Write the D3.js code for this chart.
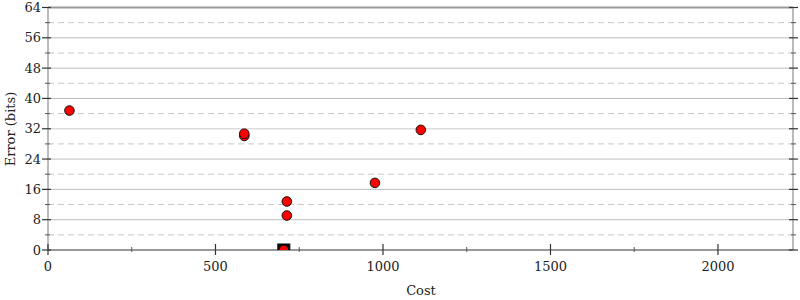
<!DOCTYPE html>
<html><head><meta charset="utf-8">
<script src="https://cdn.jsdelivr.net/npm/d3@7"></script>
<style>body{margin:0;background:#fff}text{font-family:"DejaVu Serif",serif;fill:#222}</style>
</head><body><svg id="c" width="800" height="300"></svg>
<script>
const costs = [64, 586, 586, 713, 713, 976, 1113, 704];
const errors = [36.8, 30.1, 30.7, 9.1, 12.8, 17.7, 31.7, 0];
const bestCost = [704];
const bestError = [0];
const xMajorTicks = [0, 500, 1000, 1500, 2000];
const xMinorTicks = [250, 750, 1250, 1750];
const yMajorTicks = [0, 8, 16, 24, 32, 40, 48, 56, 64];
const yMinorTicks = [4, 12, 20, 28, 36, 44, 52, 60];

const svg = d3.select("#c");
const L = 48, R = 793, T = 7.5, B = 250;
const x = d3.scaleLinear().domain([0, 2224]).range([L, R]);
const y = d3.scaleLinear().domain([0, 64]).range([B, T]);

// grid
svg.append("g").selectAll("line").data(yMinorTicks).join("line")
  .attr("x1", L).attr("x2", R).attr("y1", d => y(d)).attr("y2", d => y(d))
  .attr("stroke", "#c8c8c8").attr("stroke-width", 1).attr("stroke-dasharray", "6,4");
svg.append("g").selectAll("line").data(yMajorTicks.filter(d => d > 0 && d < 64)).join("line")
  .attr("x1", L).attr("x2", R).attr("y1", d => y(d)).attr("y2", d => y(d))
  .attr("stroke", d => d === 32 ? "#dcdcdc" : "#bdbdbd").attr("stroke-width", d => d === 32 ? 1.5 : 1);

// frame
svg.append("line").attr("x1", L).attr("x2", R).attr("y1", y(64)).attr("y2", y(64)).attr("stroke", "#999").attr("stroke-width", 2);
svg.append("line").attr("x1", L).attr("x2", L).attr("y1", T).attr("y2", B).attr("stroke", "#bbb").attr("stroke-width", 2);
svg.append("line").attr("x1", R).attr("x2", R).attr("y1", T).attr("y2", B).attr("stroke", "#bbb").attr("stroke-width", 2);
svg.append("line").attr("x1", L).attr("x2", R).attr("y1", y(0)).attr("y2", y(0)).attr("stroke", "#999").attr("stroke-width", 2);

// y ticks
const yt = svg.append("g");
yt.selectAll(".ymaj").data(yMajorTicks).join("line").attr("class","ymaj")
  .attr("x1", L - 6).attr("x2", L + 3).attr("y1", d => y(d)).attr("y2", d => y(d)).attr("stroke", "#333").attr("stroke-width", 1.2);
yt.selectAll(".ymin").data(yMinorTicks).join("line").attr("class","ymin")
  .attr("x1", L - 3).attr("x2", L + 2).attr("y1", d => y(d)).attr("y2", d => y(d)).attr("stroke", "#555").attr("stroke-width", 1);
yt.selectAll(".ymajr").data(yMajorTicks).join("line").attr("class","ymajr")
  .attr("x1", R - 4).attr("x2", R + 5).attr("y1", d => y(d)).attr("y2", d => y(d)).attr("stroke", "#333").attr("stroke-width", 1.2);
yt.selectAll(".yminr").data(yMinorTicks).join("line").attr("class","yminr")
  .attr("x1", R - 2).attr("x2", R + 3).attr("y1", d => y(d)).attr("y2", d => y(d)).attr("stroke", "#555").attr("stroke-width", 1);
yt.selectAll("text").data(yMajorTicks).join("text")
  .attr("x", L - 7).attr("y", d => y(d)).attr("dy", "0.35em").attr("text-anchor", "end")
  .attr("font-size", 13).text(d => d);

// x ticks
const xt = svg.append("g");
xt.selectAll(".xmaj").data(xMajorTicks).join("line").attr("class","xmaj")
  .attr("x1", d => x(d)).attr("x2", d => x(d)).attr("y1", B - 6).attr("y2", B + 5).attr("stroke", "#333").attr("stroke-width", 1.2);
xt.selectAll(".xmin").data(xMinorTicks).join("line").attr("class","xmin")
  .attr("x1", d => x(d)).attr("x2", d => x(d)).attr("y1", B - 3).attr("y2", B + 2).attr("stroke", "#555").attr("stroke-width", 1);
xt.selectAll("text").data(xMajorTicks).join("text")
  .attr("x", d => x(d)).attr("y", 271).attr("text-anchor", "middle")
  .attr("font-size", 13).text(d => d);

// labels
svg.append("text").attr("x", 421).attr("y", 295).attr("text-anchor", "middle").attr("font-size", 13).text("Cost");
svg.append("text").attr("transform", "translate(15,129) rotate(-90)").attr("text-anchor", "middle").attr("font-size", 13).text("Error (bits)");

// clip
svg.append("clipPath").attr("id", "clip").append("rect").attr("x", L).attr("y", T).attr("width", R - L).attr("height", B - T);
const g = svg.append("g").attr("clip-path", "url(#clip)");

g.selectAll("rect.best").data(bestCost).join("rect").attr("class","best")
  .attr("x", (d) => x(d) - 6).attr("y", (d, i) => y(bestError[i]) - 6).attr("width", 12).attr("height", 12)
  .attr("fill", "#111").attr("stroke", "#000");

g.selectAll("circle").data(costs).join("circle")
  .attr("cx", d => x(d)).attr("cy", (d, i) => y(errors[i])).attr("r", 4.8)
  .attr("fill", "#f00").attr("stroke", "#111").attr("stroke-width", 1);
</script></body></html>
